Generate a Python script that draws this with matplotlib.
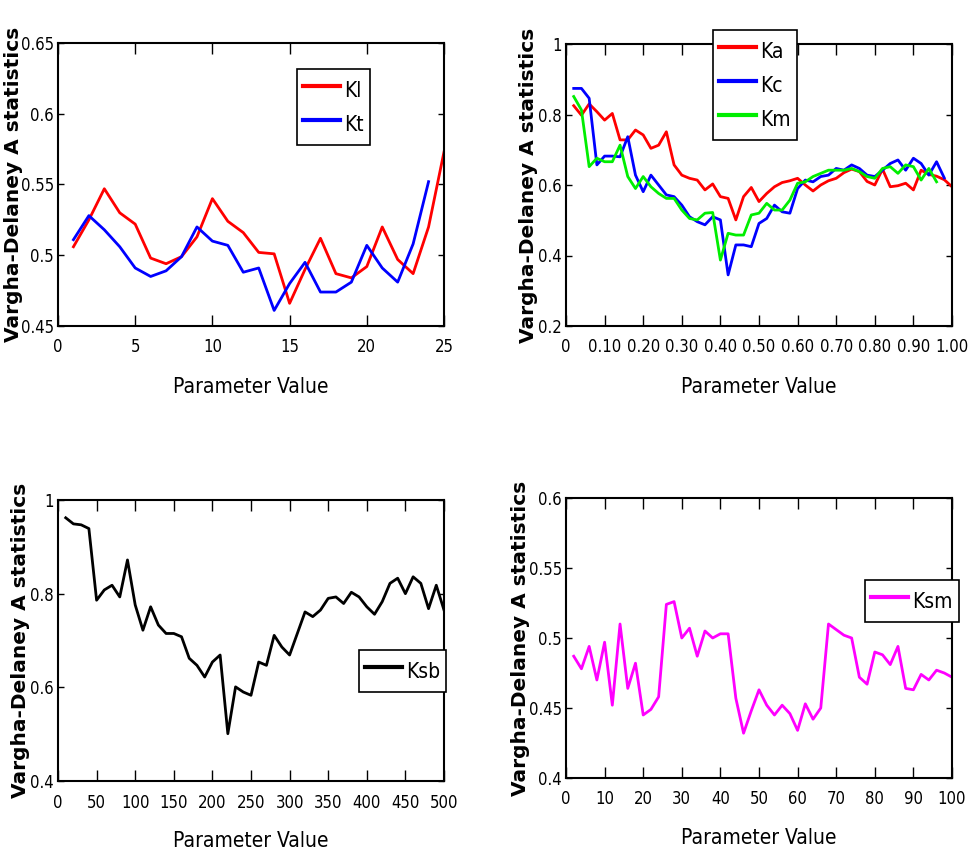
import matplotlib
matplotlib.use('Agg')
import matplotlib.pyplot as plt
from matplotlib import font_manager
from matplotlib.font_manager import FontProperties

# --- data ---
kl_x = list(range(1, 26))
kl_y = [0.506, 0.525, 0.547, 0.530, 0.522, 0.498, 0.494, 0.499, 0.513, 0.540,
        0.524, 0.516, 0.502, 0.501, 0.466, 0.490, 0.512, 0.487, 0.484, 0.492,
        0.520, 0.497, 0.487, 0.520, 0.573]
kt_x = list(range(1, 25))
kt_y = [0.511, 0.528, 0.518, 0.506, 0.491, 0.485, 0.489, 0.499, 0.520, 0.510,
        0.507, 0.488, 0.491, 0.461, 0.480, 0.495, 0.474, 0.474, 0.481, 0.507,
        0.491, 0.481, 0.508, 0.552]

k2_x = [round(0.02 * i, 2) for i in range(1, 51)]
ka_y = [0.825, 0.798, 0.830, 0.808, 0.784, 0.803, 0.728, 0.728, 0.756, 0.742,
        0.704, 0.713, 0.751, 0.657, 0.628, 0.619, 0.614, 0.586, 0.603, 0.567,
        0.562, 0.501, 0.567, 0.593, 0.553, 0.576, 0.595, 0.607, 0.612, 0.619,
        0.600, 0.583, 0.600, 0.612, 0.619, 0.635, 0.645, 0.638, 0.610, 0.600,
        0.645, 0.595, 0.598, 0.605, 0.586, 0.642, 0.630, 0.625, 0.615, 0.595]
kc_y = [0.874, 0.874, 0.846, 0.657, 0.682, 0.682, 0.680, 0.737, 0.628, 0.581,
        0.628, 0.600, 0.572, 0.567, 0.543, 0.510, 0.496, 0.487, 0.510, 0.501,
        0.345, 0.430, 0.430, 0.425, 0.491, 0.505, 0.543, 0.524, 0.520, 0.590,
        0.614, 0.609, 0.624, 0.628, 0.647, 0.642, 0.657, 0.647, 0.628, 0.624,
        0.642, 0.661, 0.671, 0.642, 0.676, 0.661, 0.628, 0.666, 0.620]
km_y = [0.851, 0.813, 0.652, 0.676, 0.666, 0.666, 0.713, 0.624, 0.590, 0.624,
        0.595, 0.576, 0.562, 0.562, 0.529, 0.505, 0.501, 0.520, 0.522, 0.387,
        0.463, 0.458, 0.458, 0.515, 0.520, 0.548, 0.529, 0.529, 0.557, 0.605,
        0.609, 0.624, 0.633, 0.642, 0.642, 0.642, 0.647, 0.638, 0.624, 0.619,
        0.647, 0.652, 0.633, 0.657, 0.652, 0.614, 0.647, 0.609]

ksb_x = list(range(10, 501, 10))
ksb_y = [0.962, 0.949, 0.947, 0.939, 0.786, 0.808, 0.818, 0.793, 0.872, 0.776,
         0.722, 0.772, 0.733, 0.715, 0.715, 0.708, 0.662, 0.647, 0.622, 0.654,
         0.669, 0.501, 0.601, 0.590, 0.583, 0.654, 0.647, 0.711, 0.686, 0.669,
         0.715, 0.761, 0.751, 0.765, 0.790, 0.793, 0.779, 0.803, 0.793, 0.772,
         0.756, 0.783, 0.822, 0.833, 0.800, 0.836, 0.822, 0.768, 0.818, 0.765]

ksm_x = list(range(2, 101, 2))
ksm_y = [0.487, 0.478, 0.494, 0.470, 0.497, 0.452, 0.510, 0.464, 0.482, 0.445,
         0.449, 0.458, 0.524, 0.526, 0.500, 0.507, 0.487, 0.505, 0.500, 0.503,
         0.503, 0.457, 0.432, 0.448, 0.463, 0.452, 0.445, 0.452, 0.446, 0.434,
         0.453, 0.442, 0.450, 0.510, 0.506, 0.502, 0.500, 0.472, 0.467, 0.490,
         0.488, 0.481, 0.494, 0.464, 0.463, 0.474, 0.470, 0.477, 0.475, 0.472]


# pick the narrowest regular sans font that is installed (MATLAB-ish squeezed look)
def find_narrow():
    rank = {'ultra-condensed': 0, 'extra-condensed': 1, 'condensed': 2, 'semi-condensed': 3}
    best = None
    for f in font_manager.fontManager.ttflist:
        st = f.stretch
        if isinstance(st, (int, float)):
            st = {100: 'ultra-condensed', 200: 'extra-condensed', 300: 'condensed',
                  400: 'semi-condensed'}.get(int(st), 'normal')
        r = rank.get(st)
        if r is None:
            n = f.name.lower()
            if 'narrow' in n or 'condensed' in n:
                r = 2
        if r is None or f.style != 'normal' or f.weight not in (400, 'normal', 'regular'):
            continue
        if 'mono' in f.name.lower() or 'serif' in f.name.lower() and 'sans' not in f.name.lower():
            continue
        if best is None or r < best[0]:
            best = (r, f.fname)
    return best[1] if best else None


narrow_file = find_narrow()


def nfont(size):
    if narrow_file:
        return FontProperties(fname=narrow_file, size=size)
    return FontProperties(family='DejaVu Sans', size=size * 0.8)


W, H = 968, 857
fig = plt.figure(figsize=(W / 100, H / 100), dpi=100)


def px_axes(l, t, r, b):
    return fig.add_axes([l / W, (H - b) / H, (r - l) / W, (b - t) / H])


def style(ax, xlim, ylim, xticks, yticks, xtl, ytl, ylab_x):
    ax.set_xlim(*xlim)
    ax.set_ylim(*ylim)
    ax.set_xticks(xticks)
    ax.set_yticks(yticks)
    ax.set_xticklabels(xtl, fontproperties=nfont(12))
    ax.set_yticklabels(ytl, fontproperties=nfont(12))
    ax.tick_params(axis='x', direction='in', top=True, length=8, width=1, pad=9)
    ax.tick_params(axis='y', direction='in', right=True, length=4, width=1, pad=3)
    for s in ax.spines.values():
        s.set_linewidth(1.5)
    ax.set_xlabel('Parameter Value', fontproperties=nfont(15))
    ax.xaxis.label.set_va('center')
    ax.xaxis.set_label_coords(0.5, -0.215)
    ax.set_ylabel('Vargha-Delaney A statistics', fontsize=14.5, fontweight='bold',
                  family='DejaVu Sans')
    ax.yaxis.label.set_va('center')
    ax.yaxis.set_label_coords(ylab_x, 0.5)


def leg(ax, anchor):
    lg = ax.legend(loc='upper left', bbox_to_anchor=anchor, fancybox=False,
                   edgecolor='black', framealpha=1, prop=nfont(15),
                   handlelength=1.75, handleheight=1.8, handletextpad=0.2,
                   labelspacing=0.22, borderpad=0.3, borderaxespad=0)
    lg.get_frame().set_linewidth(1.2)
    for h in lg.get_lines():
        h.set_linewidth(3)


# top-left
ax1 = px_axes(58, 43, 444, 326)
ax1.plot(kl_x, kl_y, color='#ff0000', lw=2, label='Kl')
ax1.plot(kt_x, kt_y, color='#0000ff', lw=2, label='Kt')
style(ax1, (0, 25), (0.45, 0.65), [0, 5, 10, 15, 20, 25], [0.45, 0.5, 0.55, 0.6, 0.65],
      ['0', '5', '10', '15', '20', '25'], ['0.45', '0.5', '0.55', '0.6', '0.65'], -0.115)
leg(ax1, (0.619, 0.908))

# top-right
ax2 = px_axes(566, 44, 952, 326)
ax2.plot(k2_x, ka_y, color='#ff0000', lw=2, label='Ka')
ax2.plot(k2_x[:len(kc_y)], kc_y, color='#0000ff', lw=2, label='Kc')
ax2.plot(k2_x[:len(km_y)], km_y, color='#00ee00', lw=2, label='Km')
xt2 = [0, 0.1, 0.2, 0.3, 0.4, 0.5, 0.6, 0.7, 0.8, 0.9, 1.0]
style(ax2, (0, 1), (0.2, 1.0), xt2, [0.2, 0.4, 0.6, 0.8, 1.0],
      ['0'] + ['%.2f' % v for v in xt2[1:]], ['0.2', '0.4', '0.6', '0.8', '1'], -0.097)
leg(ax2, (0.381, 1.05))

# bottom-left
ax3 = px_axes(58, 500, 444, 781)
ax3.plot(ksb_x, ksb_y, color='black', lw=2, label='Ksb')
xt3 = list(range(0, 501, 50))
style(ax3, (0, 500), (0.4, 1.0), xt3, [0.4, 0.6, 0.8, 1.0],
      [str(v) for v in xt3], ['0.4', '0.6', '0.8', '1'], -0.097)
leg(ax3, (0.78, 0.466))

# bottom-right
ax4 = px_axes(566, 498, 952, 778)
ax4.plot(ksm_x, ksm_y, color='#ff00ff', lw=2, label='Ksm')
xt4 = list(range(0, 101, 10))
style(ax4, (0, 100), (0.4, 0.6), xt4, [0.4, 0.45, 0.5, 0.55, 0.6],
      [str(v) for v in xt4], ['0.4', '0.45', '0.5', '0.55', '0.6'], -0.117)
leg(ax4, (0.775, 0.707))

fig.savefig('out.png', dpi=100, facecolor='white')
